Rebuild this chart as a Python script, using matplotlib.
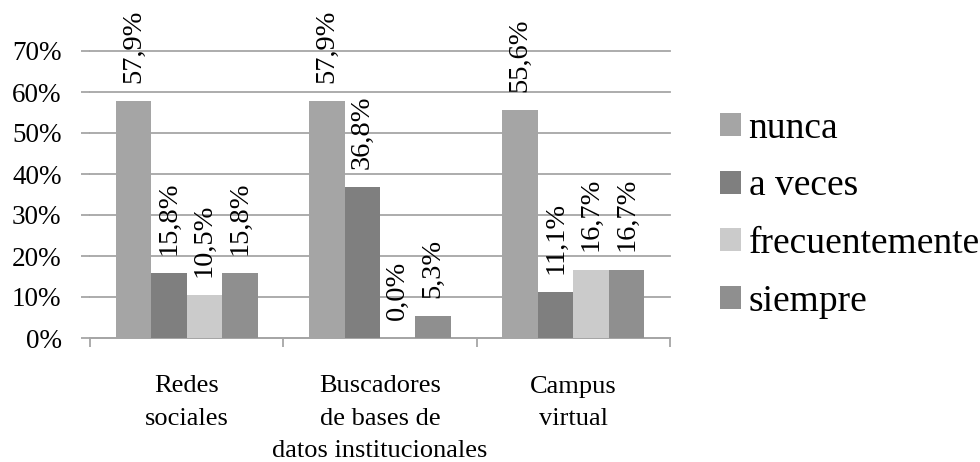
import numpy as np
import matplotlib.pyplot as plt
from matplotlib.ticker import FixedLocator

plt.rcParams["font.family"] = ["Liberation Serif", "DejaVu Serif"]

categories = ["Redes\nsociales", "Buscadores\nde bases de\ndatos institucionales", "Campus\nvirtual"]
series = ["nunca", "a veces", "frecuentemente", "siempre"]
nunca = [57.9, 57.9, 55.6]
a_veces = [15.8, 36.8, 11.1]
frecuentemente = [10.5, 0.0, 16.7]
siempre = [15.8, 5.3, 16.7]
colors = ["#a5a5a5", "#7f7f7f", "#cbcbcb", "#8f8f8f"]
yticks = [0, 10, 20, 30, 40, 50, 60, 70]

values = [nunca, a_veces, frecuentemente, siempre]
grid_color = "#a6a6a6"

fig = plt.figure(figsize=(9.8, 4.62), dpi=100)
ax = fig.add_axes([90 / 980, 124 / 462, 580 / 980, 287 / 462])

x = np.arange(len(categories))
w = 0.1835
for i, (name, vals) in enumerate(zip(series, values)):
    pos = x + (i - 1.5) * w
    ax.bar(pos, vals, width=w, color=colors[i], label=name, zorder=3)
    for xp, v in zip(pos, vals):
        ax.annotate(f"{v:.1f}%".replace(".", ","), (xp, v), xytext=(0, 13),
                    textcoords="offset points", rotation=90, ha="center",
                    va="bottom", fontsize=20.5, annotation_clip=False)

ax.set_xlim(-0.5, 2.5)
ax.set_ylim(0, 70)
ax.set_yticks(yticks)
ax.set_yticklabels([f"{t}%" for t in yticks], fontsize=19.5)
ax.yaxis.grid(True, color=grid_color, linewidth=1.3, zorder=0)
for gl in ax.get_ygridlines():
    gl.set_clip_on(False)
ax.tick_params(axis="y", length=6.5, width=1.3, color=grid_color, pad=14)

# category boundaries as major ticks, names as minor tick labels
ax.xaxis.set_major_locator(FixedLocator([-0.5, 0.5, 1.5, 2.5]))
ax.xaxis.set_minor_locator(FixedLocator(x))
ax.set_xticklabels([])
ax.set_xticklabels(categories, minor=True, fontsize=19, linespacing=1.6, va="top")
ax.tick_params(axis="x", which="major", length=6.5, width=1.3, color=grid_color)
ax.tick_params(axis="x", which="minor", length=0, pad=27)

for s in ["top", "right", "left"]:
    ax.spines[s].set_visible(False)
ax.spines["bottom"].set_color(grid_color)
ax.spines["bottom"].set_linewidth(1.3)

fig.legend(loc="center left", bbox_to_anchor=(720 / 980, 1 - 215 / 462),
           frameon=False, fontsize=27, handlelength=0.56, handleheight=0.56,
           handletextpad=0.2, labelspacing=0.62, borderpad=0, borderaxespad=0)

fig.savefig("out.png", dpi=100)
